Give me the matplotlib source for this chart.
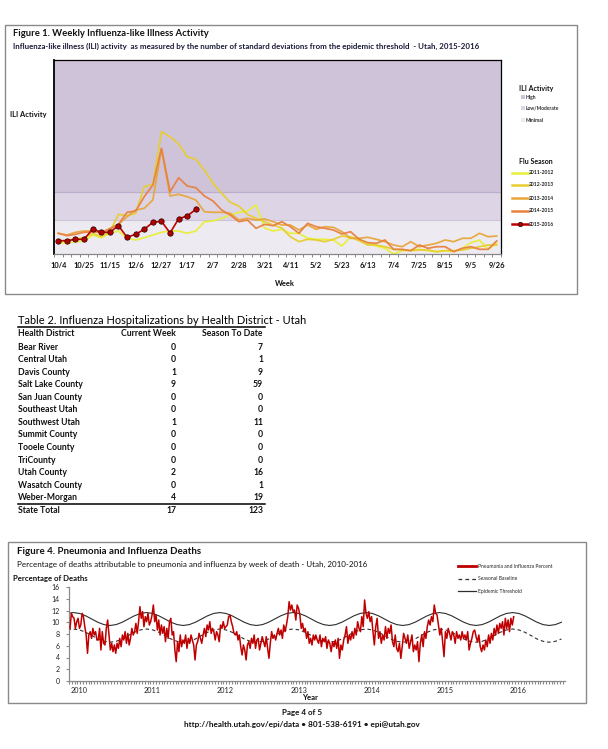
import numpy as np
import matplotlib
matplotlib.use("Agg")
import matplotlib.pyplot as plt
from matplotlib.patches import Rectangle
from matplotlib.lines import Line2D

plt.rcParams['font.family'] = ['Lato', 'DejaVu Sans']

# ---------------- DATA ----------------
week_labels = ["10/4", "10/25", "11/15", "12/6", "12/27", "1/17", "2/7", "2/28", "3/21",
               "4/11", "5/2", "5/23", "6/13", "7/4", "7/25", "8/15", "9/5", "9/26"]

ili_2011_12 = [1.17, 1.07, 1.23, 1.3, 1.9, 1.63, 2.07, 2.3, 1.57, 1.4, 1.63, 1.9, 2.17, 2.3, 2.3,
               2.07, 2.3, 3.23, 3.3, 3.57, 3.9, 4.17, 4.3, 4.9, 2.6, 2.3,
               2.47, 2.07, 2.07, 1.57, 1.47, 1.47, 1.4, 0.8, 1.73, 1.47, 1.07, 0.8, 0.57, 0.0,
               0.33, 0.4, 0.47, 0.33, 0.23, 0.33, 0.23, 0.57, 1.13, 1.4, 0.47, 1.07]
ili_2012_13 = [1.23, 1.4, 1.5, 1.63, 2.07, 1.73, 2.23, 3.97, 3.83, 4.07, 6.73, 6.97, 12.23, 11.73,
               11.0, 9.73, 9.47, 8.4, 7.07, 6.07, 5.17, 4.8, 3.97, 3.57, 3.23, 2.9, 2.6,
               1.73, 1.23, 1.47, 1.4, 1.23, 1.47, 1.8, 1.67, 1.33, 0.9, 0.9, 0.73, 0.47, 0.4,
               0.33, 0.4, 0.4, 0.23, 0.33, 0.33, 0.4, 0.57, 0.73, 0.9, 0.9]
ili_2013_14 = [2.07, 1.9, 2.17, 2.3, 2.3, 2.07, 2.57, 2.97, 3.73, 4.4, 4.57, 5.4, 10.5, 5.8, 5.97,
               5.73, 5.4, 4.23, 4.17, 4.17, 4.07, 3.4, 3.57, 3.4, 3.5, 3.23, 2.9,
               2.9, 2.4, 2.9, 2.47, 2.73, 2.67, 2.23, 1.57, 1.57, 1.67, 1.47, 1.23, 0.9, 0.73,
               1.23, 0.73, 0.9, 1.07, 1.4, 1.23, 1.57, 1.57, 2.07, 1.73, 1.8]
ili_2014_15 = [2.07, 1.83, 1.97, 2.17, 2.23, 2.17, 2.5, 2.97, 4.17, 4.3, 5.73, 6.9, 10.57, 6.23,
               7.63, 6.8, 6.63, 5.8, 5.3, 4.4, 3.9, 3.23, 3.4, 2.57, 2.97, 2.83, 3.23,
               2.73, 2.07, 3.07, 2.73, 2.57, 2.4, 2.0, 2.23, 1.47, 1.13, 1.07, 1.4, 0.47, 0.47,
               0.33, 0.9, 0.57, 0.73, 0.73, 0.23, 0.57, 0.73, 0.47, 0.47, 1.3]
ili_2015_16 = [1.33, 1.33, 1.47, 1.47, 2.5, 2.17, 2.17, 2.83, 1.67, 1.97, 2.47, 3.17, 3.27, 2.1,
               3.53, 3.8, 4.47]
season_names = ["2011-2012", "2012-2013", "2013-2014", "2014-2015", "2015-2016"]
ili_bands = [("Minimal", 0.0, 3.45), ("Low/Moderate", 3.45, 6.25), ("High", 6.25, 19.4)]

districts = ["Bear River", "Central Utah", "Davis County", "Salt Lake County", "San Juan County",
             "Southeast Utah", "Southwest Utah", "Summit County", "Tooele County", "TriCounty",
             "Utah County", "Wasatch County", "Weber-Morgan"]
current_week = [0, 0, 1, 9, 0, 0, 1, 0, 0, 0, 2, 0, 4]
season_to_date = [7, 1, 9, 59, 0, 0, 11, 0, 0, 0, 16, 1, 19]

# weekly P&I percent, Nov 2009 - Mar 2013 and Mar 2013 - Dec 2015
pi_pct_a = [
    8.96, 11.52, 10.95, 10.67, 8.96, 10.10, 10.67, 8.96, 9.53, 11.52,
    10.95, 9.25, 7.83, 4.71, 7.83, 8.40, 7.26, 8.96, 7.83, 8.40,
    6.98, 6.98, 8.96, 5.28, 8.40, 6.41, 6.13, 8.96, 10.38, 7.83,
    5.28, 6.41, 4.99, 6.13, 4.71, 6.41, 5.56, 7.26, 5.84, 7.83,
    6.98, 8.40, 6.41, 8.11, 6.13, 7.26, 8.96, 7.83, 8.40, 9.81,
    8.11, 10.10, 12.65, 10.67, 11.80, 9.25, 10.95, 10.10, 11.52, 9.53,
    10.10, 11.23, 12.94, 10.10, 11.23, 8.68, 10.38, 7.83, 9.53, 8.11,
    9.25, 6.69, 8.96, 7.26, 10.10, 10.67, 7.83, 8.40, 5.28, 3.29,
    6.69, 4.99, 7.83, 5.84, 6.98, 6.41, 7.83, 5.56, 7.26, 6.41,
    7.83, 6.98, 6.13, 3.58, 6.13, 6.69, 8.11, 7.26, 6.41, 7.83,
    8.96, 7.55, 9.53, 8.68, 10.10, 8.11, 8.96, 8.40, 6.98, 8.40,
    7.83, 6.69, 9.53, 8.96, 10.10, 8.96, 9.25, 9.53, 10.95, 11.23,
    10.10, 9.25, 8.11, 7.83, 8.40, 6.98, 7.83, 5.84, 4.43, 6.13,
    5.28, 3.58, 6.13, 6.69, 5.56, 7.26, 6.41, 7.83, 5.56, 6.98,
    7.26, 5.28, 6.41, 7.55, 6.69, 5.84, 7.55, 5.56, 3.86, 6.41,
    8.40, 7.26, 7.83, 6.98, 8.11, 8.96, 7.83, 8.68, 7.26, 9.53,
    8.40, 9.53, 10.95, 13.5, 12.08, 12.94, 11.80, 12.08, 10.38, 12.94,
    12.37, 11.23, 8.96, 9.81, 8.40, 8.96, 7.26, 8.40, 6.41, 7.26,
    6.13, 7.83, 6.98]
pi_pct_b = [
    7.83, 6.98, 6.41, 7.83, 5.84, 7.26, 6.69, 7.55, 5.56, 6.98,
    6.41, 4.99, 6.69, 5.84, 6.98, 5.56, 7.26, 3.86, 6.13, 5.28,
    6.98, 7.83, 9.25, 6.41, 7.83, 6.98, 8.40, 7.26, 8.96, 7.83,
    10.10, 8.96, 8.40, 10.95, 9.25, 13.79, 11.52, 10.67, 11.80, 10.10,
    10.95, 8.40, 6.13, 9.25, 10.67, 7.26, 8.40, 6.41, 7.83, 6.98,
    9.25, 7.26, 8.96, 8.11, 9.53, 6.69, 5.84, 7.83, 5.56, 4.99,
    6.41, 3.86, 5.84, 8.11, 7.26, 6.41, 7.83, 5.56, 6.69, 7.83,
    4.99, 6.13, 5.28, 6.69, 3.29, 6.41, 7.83, 5.84, 8.40, 7.26,
    9.25, 10.38, 9.53, 10.95, 10.10, 12.94, 11.52, 11.23, 9.53, 7.83,
    8.96, 6.69, 4.14, 8.40, 7.26, 8.96, 8.11, 6.98, 8.40, 7.83,
    6.41, 8.40, 7.26, 7.83, 6.98, 8.40, 7.26, 7.83, 6.98, 8.40,
    5.28, 6.41, 7.26, 8.40, 8.68, 7.55, 6.69, 7.83, 5.84, 4.99,
    6.13, 5.28, 6.98, 5.84, 7.83, 6.41, 8.11, 6.98, 8.96, 7.83,
    9.53, 8.11, 9.81, 8.96, 10.10, 7.83, 10.67, 8.96, 10.38, 8.40,
    10.67, 9.53, 10.95]
pi_period_a = (2009.877, 2013.219)
pi_period_b = (2013.235, 2015.938)

# monthly epidemic threshold and seasonal baseline (starting Nov 2009)
epi_threshold = [11.5,
    11.65, 11.5, 11.1, 10.55, 10.0, 9.6, 9.45, 9.6, 10.0, 10.55, 11.1, 11.5,
    11.65, 11.5, 11.1, 10.55, 10.0, 9.6, 9.45, 9.6, 10.0, 10.55, 11.1, 11.5,
    11.65, 11.5, 11.1, 10.55, 10.0, 9.6, 9.45, 9.6, 10.0, 10.55, 11.1, 11.5,
    11.65, 11.5, 11.1, 10.55, 10.0, 9.6, 9.45, 9.6, 10.0, 10.55, 11.1, 11.5,
    11.65, 11.5, 11.1, 10.55, 10.0, 9.6, 9.45, 9.6, 10.0, 10.55, 11.1, 11.5,
    11.65, 11.5, 11.1, 10.55, 10.0, 9.6, 9.45, 9.6, 10.0, 10.55, 11.1, 11.5,
    11.65, 11.5, 11.1, 10.55, 10.0, 9.6, 9.45, 9.6, 10.0]
seasonal_baseline = [8.7,
    8.85, 8.7, 8.3, 7.75, 7.15, 6.75, 6.6, 6.75, 7.15, 7.75, 8.3, 8.7,
    8.85, 8.7, 8.3, 7.75, 7.15, 6.75, 6.6, 6.75, 7.15, 7.75, 8.3, 8.7,
    8.85, 8.7, 8.3, 7.75, 7.15, 6.75, 6.6, 6.75, 7.15, 7.75, 8.3, 8.7,
    8.85, 8.7, 8.3, 7.75, 7.15, 6.75, 6.6, 6.75, 7.15, 7.75, 8.3, 8.7,
    8.85, 8.7, 8.3, 7.75, 7.15, 6.75, 6.6, 6.75, 7.15, 7.75, 8.3, 8.7,
    8.85, 8.7, 8.3, 7.75, 7.15, 6.75, 6.6, 6.75, 7.15, 7.75, 8.3, 8.7,
    8.85, 8.7, 8.3, 7.75, 7.15, 6.75, 6.6, 6.75, 7.15]
curve_start = 2009.84
years = [2010, 2011, 2012, 2013, 2014, 2015, 2016]
pct_ticks = [0, 2, 4, 6, 8, 10, 12, 14, 16]

# ---------------- LAYOUT ----------------
W, H = 608, 749
fig = plt.figure(figsize=(W / 100, H / 100), dpi=100)
fig.patch.set_facecolor('white')


def fx(x):
    return x / W


def fy(y):
    return 1 - y / H


def txt(x, y, s, size, weight='normal', ha='left', va='center', color='#111111'):
    fig.text(fx(x), fy(y), s, fontsize=size, fontweight=weight, ha=ha, va=va, color=color)


def box(x0, y0, x1, y1, ec='#8a8a8a', lw=1.0):
    fig.add_artist(Rectangle((fx(x0), fy(y1)), fx(x1) - fx(x0), fy(y0) - fy(y1),
                             transform=fig.transFigure, fill=False, ec=ec, lw=lw))


def hline(x0, x1, y, color='black', lw=1.0, **kw):
    fig.add_artist(Line2D([fx(x0), fx(x1)], [fy(y), fy(y)], transform=fig.transFigure,
                          color=color, lw=lw, **kw))


# ============ Figure 1 ============
box(5, 25, 577, 294)
txt(13, 34, "Figure 1. Weekly Influenza-like Illness Activity", 6.8, 'bold')
txt(13, 46, "Influenza-like illness (ILI) activity  as measured by the number of standard "
            "deviations from the epidemic threshold  - Utah, 2015-2016", 5.65, 'bold',
    color='#1a1a3a')
txt(10, 115, "ILI Activity", 5.4, 'bold')

ax1 = fig.add_axes([fx(54), fy(254), (501 - 54) / W, (254 - 60) / H])
ax1.set_xlim(-0.5, 51.5)
ax1.set_ylim(0, 19.4)
band_colors = {"Minimal": "#EDEAF1", "Low/Moderate": "#DDD4E5", "High": "#CFC3DA"}
for name, lo, hi in ili_bands:
    ax1.axhspan(lo, hi, color=band_colors[name], zorder=0, lw=0)
ax1.axhline(ili_bands[0][2], color='#CDC3D8', lw=0.8, zorder=1)
ax1.axhline(ili_bands[1][2], color='#BBAECB', lw=0.9, zorder=1)

season_colors = ["#E8F037", "#E6CE2E", "#E8A63A", "#E8803F", "#C00000"]
all_series = [ili_2011_12, ili_2012_13, ili_2013_14, ili_2014_15]
for k, vals in enumerate(all_series):
    ax1.plot(range(len(vals)), vals, color=season_colors[k], lw=1.25, zorder=2 + k,
             solid_joinstyle='round', alpha=0.95)
ax1.plot(range(len(ili_2015_16)), ili_2015_16, color=season_colors[4], lw=1.2, zorder=8,
         marker='o', ms=3.9, mfc='#B00000', mec='#2a0000', mew=0.5)

week_idx = list(range(0, 52, 3))
ax1.set_xticks(week_idx)
ax1.set_xticklabels(week_labels, fontsize=5.4, fontweight='bold', color='#111111')
ax1.set_xticks(np.arange(-0.5, 52, 1), minor=True)
ax1.tick_params(axis='x', which='major', length=0, pad=5.5)
ax1.tick_params(axis='x', which='minor', length=2.5, width=0.7, color='#888888', direction='out')
ax1.set_yticks([])
for s in ['top', 'right']:
    ax1.spines[s].set_color('black')
    ax1.spines[s].set_linewidth(0.9)
ax1.spines['left'].set_color('black')
ax1.spines['left'].set_linewidth(1.3)
ax1.spines['bottom'].set_color('#888888')
ax1.spines['bottom'].set_linewidth(0.9)
txt(275, 284, "Week", 5.4, 'bold')

# ILI activity legend
txt(519, 88, "ILI Activity", 5.0, 'bold')
leg_band_y = {"High": 97, "Low/Moderate": 108, "Minimal": 120}
for name in ["High", "Low/Moderate", "Minimal"]:
    yy = leg_band_y[name]
    fig.add_artist(Rectangle((fx(521), fy(yy + 2)), 4 / W, 4 / H, transform=fig.transFigure,
                             color=band_colors[name], lw=0))
    txt(526, yy, name, 3.6, 'bold', color='#333333')

# Flu season legend
txt(519, 162, "Flu Season", 5.0, 'bold')
leg_season_y = [173, 185, 198, 211, 224]
for k, name in enumerate(season_names):
    yy = leg_season_y[k]
    hline(512, 528, yy, color=season_colors[k], lw=1.8)
    if k == 4:
        fig.add_artist(Line2D([fx(520)], [fy(yy)], transform=fig.transFigure, marker='o',
                              ms=3.2, mfc='#B00000', mec='#2a0000', mew=0.5))
    txt(529, yy, name, 3.6, 'bold', color='#222222')

# ============ Table 2 ============
tfs = 6.2
txt(18, 320, "Table 2. Influenza Hospitalizations by Health District - Utah", 7.9, 'normal',
    color='#000000')
hline(18, 265, 327, lw=1.1)
txt(18, 333.5, "Health District", tfs, 'bold')
txt(176, 333.5, "Current Week", tfs, 'bold', ha='right')
txt(263, 333.5, "Season To Date", tfs, 'bold', ha='right')
row_y0, row_dy = 347, 12.56
for r, name in enumerate(districts):
    yy = row_y0 + r * row_dy
    txt(18, yy, name, tfs, 'bold')
    txt(176, yy, str(current_week[r]), tfs, 'bold', ha='right')
    txt(263, yy, str(season_to_date[r]), tfs, 'bold', ha='right')
hline(18, 265, 503.5, lw=1.1)
txt(18, 510.5, "State Total", tfs, 'bold')
txt(176, 510.5, str(sum(current_week)), tfs, 'bold', ha='right')
txt(263, 510.5, str(sum(season_to_date)), tfs, 'bold', ha='right')

# ============ Figure 4 ============
box(8, 542, 586, 703)
txt(17, 551, "Figure 4. Pneumonia and Influenza Deaths", 7.0, 'bold')
txt(17, 564, "Percentage of deaths attributable to pneumonia and influenza by week of death "
             "- Utah, 2010-2016", 5.8, 'normal', color='#111111')
txt(13, 578, "Percentage of Deaths", 5.6, 'bold')

ax4 = fig.add_axes([fx(69), fy(681), (565 - 69) / W, (681 - 587) / H])
ax4.set_xlim(2009.863, 2016.639)
ax4.set_ylim(0, 16)
curve_dates = curve_start + np.arange(len(epi_threshold)) / 12.0
ax4.plot(curve_dates, epi_threshold, color='#2e2e2e', lw=0.8, zorder=2)
ax4.plot(curve_dates, seasonal_baseline, color='#2e2e2e', lw=0.8, dashes=(3.2, 2.6), zorder=2)
dates_a = np.linspace(pi_period_a[0], pi_period_a[1], len(pi_pct_a))
dates_b = np.linspace(pi_period_b[0], pi_period_b[1], len(pi_pct_b))
pi_dates = np.concatenate([dates_a, dates_b])
pi_vals = pi_pct_a + pi_pct_b
ax4.plot(pi_dates, pi_vals, color='#C00000', lw=1.1, zorder=3)

ax4.set_xticks(years)
ax4.set_xticklabels([str(y) for y in years], fontsize=5.2, color='#222222')
ax4.set_xticks(np.arange(2009.863, 2016.64, 14 / 365.25), minor=True)
ax4.tick_params(axis='x', which='major', length=0, pad=4.5)
ax4.tick_params(axis='x', which='minor', length=2.5, width=0.8, color='#8a8a8a', direction='out')
ax4.set_yticks(pct_ticks)
ax4.set_yticklabels([str(v) for v in pct_ticks], fontsize=5, color='#222222')
ax4.tick_params(axis='y', length=2.5, width=0.8, color='#8a8a8a', pad=4)
for s in ['top', 'right']:
    ax4.spines[s].set_visible(False)
for s in ['left', 'bottom']:
    ax4.spines[s].set_color('#8a8a8a')
    ax4.spines[s].set_linewidth(0.9)
ax4.set_facecolor('none')
txt(302, 697, "Year", 5.6, 'bold')

# Figure 4 legend
hline(458, 476, 566, color='#C00000', lw=2.0)
txt(478, 566, "Pneumonia and Influenza Percent", 3.6, 'normal', color='#222222')
hline(458, 476, 578.7, color='#2e2e2e', lw=0.9, dashes=(3, 2.5))
txt(478, 578.7, "Seasonal Baseline", 3.6, 'normal', color='#222222')
hline(458, 476, 591, color='#2e2e2e', lw=0.9)
txt(478, 591, "Epidemic Threshold", 3.6, 'normal', color='#222222')

# ============ Footer ============
txt(302, 712, "Page 4 of 5", 5.8, 'bold', ha='center')
txt(302, 725, "http://health.utah.gov/epi/data \u2022 801-538-6191 \u2022 epi@utah.gov", 5.9,
    'bold', ha='center')

fig.savefig("out.png", dpi=100)
